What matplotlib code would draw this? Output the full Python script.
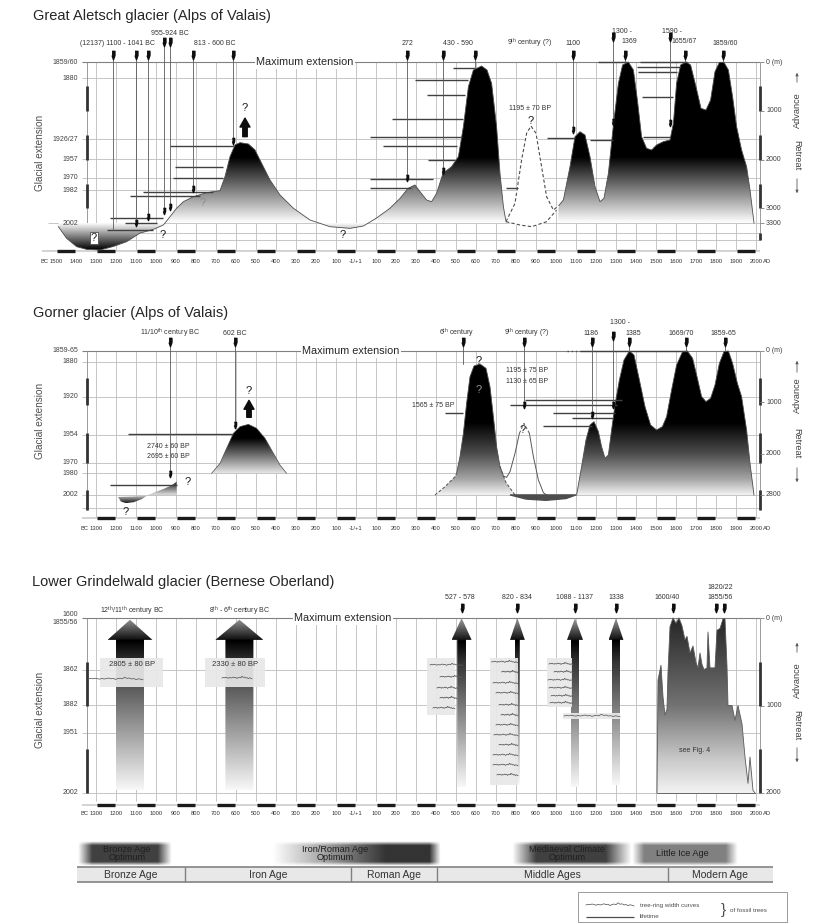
import numpy as np
import matplotlib
matplotlib.use('Agg')
import matplotlib.pyplot as plt
from matplotlib.patches import Polygon, Rectangle

plt.rcParams['font.family'] = ['Liberation Sans', 'DejaVu Sans']
plt.rcParams['mathtext.fontset'] = 'custom'
plt.rcParams['mathtext.rm'] = 'Liberation Sans'

# x = calendar year (BC negative), y = retreat behind the maximum extension (m)

# ---------------- Great Aletsch glacier ----------------
aletsch_years = [-1488, -1447, -1397, -1347, -1280, -1213, -1147, -1080, -1013, -963,
                 -930, -897, -863, -813, -747, -680, -655, -630, -605, -580,
                 -538, -505, -472, -430, -380, -313, -230, -130, -30, 37,
                 103, 170, 220, 260, 295, 320, 353, 378, 403, 435,
                 478, 512, 537, 562, 587, 628, 655, 678, 703, 720, 737, 750]
aletsch_m = [3375, 3613, 3784, 3839, 3852, 3780, 3682, 3506, 3430, 3340,
             3170, 2997, 2862, 2760, 2678, 2637, 2350, 1940, 1700, 1653,
             1680, 1803, 2073, 2418, 2725, 2997, 3238, 3375, 3409, 3361,
             3197, 2997, 2795, 2590, 2520, 2657, 2828, 2862, 2692, 2282,
             2145, 1940, 1325, 506, 164, 82, 164, 437, 1325, 2282, 2965, 3272]
aletsch2_years = [1012, 1037, 1070, 1095, 1120, 1145, 1170, 1195, 1220, 1240,
                  1262, 1287, 1312, 1333, 1362, 1387, 1407, 1428, 1453, 1478,
                  1503, 1537, 1570, 1587, 1603, 1623, 1650, 1673, 1700, 1725,
                  1750, 1773, 1795, 1817, 1840, 1862, 1883, 1903, 1928, 1953, 1970, 1990]
aletsch2_m = [2951, 2828, 2145, 1530, 1428, 1496, 1940, 2555, 2862, 2794,
              2282, 1291, 437, 61, 0, 164, 779, 1530, 1769, 1803,
              1700, 1632, 1598, 1257, 437, 61, 0, 61, 506, 950,
              984, 779, 198, 7, 7, 164, 711, 1325, 1803, 2145, 2623, 3300]
aletsch_9c_years = [750, 795, 828, 853, 875, 900, 928, 953, 987, 1012]
aletsch_9c_m = [3272, 2896, 2008, 1462, 1312, 1462, 2145, 2760, 3033, 2951]
aletsch_9c_low_years = [750, 820, 878, 953, 1003]
aletsch_9c_low_m = [3272, 3340, 3375, 3272, 3033]

aletsch_life_start = [-930, -905, -913, -1063, -1130, -1230, -1155, -1247, 295, 178, 70, 137, 70,
                      70, 487, 353, 362, 750, 953, 1170, 1212, 1420, 1403, 1412, 1428, 1437]
aletsch_life_end = [-615, -665, -663, -713, -780, -963, -997, -1013, 562, 537, 528, 503, 387,
                    287, 595, 545, 495, 812, 1095, 1287, 1353, 1653, 1620, 1603, 1587, 1570]
aletsch_life_m = [1715, 2145, 2384, 2657, 2746, 3203, 3292, 3443, 369, 1175, 1530, 1721, 2404,
                  2575, 130, 676, 2008, 2589, 1550, 1598, 0, 0, 100, 198, 711, 1544]

aletsch_evt_years = [-1213, -1100, -1040, -960, -930, -813, -613, 257, 435, 595, 1087, 1287, 1345, 1570, 1645, 1835]
aletsch_evt_top = [-150, -150, -150, -410, -410, -150, -150, -150, -150, -150, -150, -510, -150, -510, -150, -150]
aletsch_evt_end = [3443, 3292, 3203, 3100, 3000, 2660, 1715, 2400, 2250, 130, 1430, 1250, 0, 1290, 0, 0]
aletsch_evt_small_years = [-1100, -1040, -960, -930, -813, -613, 257, 435, 1087, 1287, 1570]
aletsch_evt_small_m = [3300, 3170, 3060, 2970, 2610, 1620, 2380, 2230, 1400, 1230, 1250]

aletsch_lab_text = ['(12137) 1100 - 1041 BC', '955-924 BC', '813 - 600 BC', '272', '430 - 590',
                    r'9$^{\rm th}$ century (?)', '1100', '1300 -', '1369', '1590 -', '1655/67', '1859/60']
aletsch_lab_x = [-1195, -930, -705, 257, 512, 867, 1087, 1328, 1367, 1578, 1640, 1845]
aletsch_lab_m = [-389, -574, -389, -389, -389, -389, -389, -635, -430, -635, -430, -389]

aletsch_levels = [0, 328, 1578, 1988, 2377, 2623, 3300]
aletsch_level_text = ['1859/60', '1880', '1926/27', '1957', '1970', '1982', '2002']
aletsch_right = [0, 1000, 2000, 3000, 3300]
aletsch_right_text = ['0 (m)', '1000', '2000', '3000', '3300']

# ---------------- Gorner glacier ----------------
gorner_bronze_years = [-1190, -1175, -1150, -1110, -1070, -1040, -1000, -960, -925, -897, -897]
gorner_bronze_m = [2840, 2930, 2960, 2940, 2880, 2800, 2740, 2680, 2620, 2545, 2800]
gorner_bc_years = [-722, -680, -647, -613, -580, -538, -497, -455, -413, -380, -347]
gorner_bc_m = [2380, 2186, 1894, 1602, 1472, 1427, 1504, 1699, 1991, 2218, 2380]
gorner_6c_years = [395, 445, 495, 503, 520, 537, 553, 570, 590, 620, 650, 670, 687, 703, 720, 750, 795]
gorner_6c_m = [2802, 2640, 2445, 2380, 2056, 1602, 1018, 500, 292, 253, 337, 694, 1278, 1862, 2251, 2560, 2800]
gorner_9c_years = [720, 737, 753, 770, 795, 817, 840, 867, 887, 912, 937, 953]
gorner_9c_m = [2251, 2432, 2458, 2348, 1991, 1602, 1407, 1602, 2056, 2510, 2757, 2802]
gorner_low_years = [770, 850, 950, 1050, 1100]
gorner_low_m = [2800, 2880, 2905, 2870, 2800]
gorner_years = [1103, 1128, 1150, 1170, 1190, 1212, 1228, 1245, 1262, 1278,
                1295, 1317, 1340, 1367, 1390, 1417, 1445, 1473, 1503, 1532,
                1553, 1578, 1603, 1633, 1657, 1683, 1707, 1728, 1750, 1773,
                1795, 1817, 1840, 1862, 1883, 1907, 1928, 1953, 1970, 1990]
gorner_m = [2802, 2251, 1732, 1440, 1375, 1569, 1862, 2088, 2023, 1537,
            1051, 564, 175, 0, 78, 564, 1083, 1440, 1537, 1472,
            1278, 759, 272, 13, 0, 142, 531, 888, 985, 920,
            661, 240, 13, 0, 240, 629, 888, 1537, 2186, 2802]

gorner_life_start = [-1230, -1138, 445, 1120, 845, 770, 987, 1078, 937]
gorner_life_end = [-897, -613, 537, 1653, 1328, 1303, 1295, 1287, 1178]
gorner_life_m = [2607, 1615, 1213, 0, 953, 1051, 1200, 1310, 1459]

gorner_evt_years = [-930, -605, 535, 840, 1178, 1287, 1365, 1650, 1845]
gorner_evt_top = [-175, -175, -175, -175, -175, -300, -175, -175, -175]
gorner_evt_end = [2412, 1478, 260, 1070, 1245, 1070, 0, 0, 0]
gorner_evt_small_years = [-930, -605, 840, 1178, 1287]
gorner_evt_small_m = [2400, 1440, 1060, 1240, 1060]

gorner_lab_text = [r'11/10$^{\rm th}$ century BC', '602 BC', r'6$^{\rm th}$ century', r'9$^{\rm th}$ century (?)',
                   '1186', '1300 -', '1385', '1669/70', '1859-65']
gorner_lab_x = [-930, -605, 503, 853, 1175, 1320, 1387, 1628, 1837]
gorner_lab_m = [-350, -350, -350, -350, -350, -545, -350, -350, -350]

gorner_levels = [0, 208, 889, 1634, 2173, 2380, 2800]
gorner_level_text = ['1859-65', '1880', '1920', '1954', '1970', '1980', '2002']
gorner_right = [0, 1000, 2000, 2800]
gorner_right_text = ['0 (m)', '1000', '2000', '2800']

# ---------------- Lower Grindelwald glacier ----------------
grind_years = [1505, 1510, 1525, 1535, 1545, 1555, 1560, 1570, 1585, 1600,
               1615, 1630, 1645, 1655, 1670, 1685, 1700, 1710, 1720, 1730,
               1740, 1755, 1760, 1770, 1795, 1805, 1820, 1835, 1845, 1855,
               1860, 1880, 1895, 1910, 1930, 1945, 1960, 1970, 1985, 1995]
grind_m = [2000, 710, 540, 900, 1110, 1040, 620, 100, 0, 60,
           0, 90, 250, 210, 400, 320, 510, 570, 400, 530,
           590, 570, 160, 570, 570, 140, 120, 10, 10, 550,
           1000, 1000, 1170, 1000, 1210, 1590, 1890, 1590, 1970, 2000]

# advance arrows (dated advances from fossil wood)
arrow_center = [-1130, -583, 528, 807, 1095, 1300]
arrow_head_half = [112, 120, 50, 37, 40, 37]
arrow_shaft_half = [70, 70, 22, 12, 20, 20]
arrow_tip = [20, 20, 0, 0, 0, 0]
arrow_bottom = [1965, 1965, 1930, 1910, 1930, 1910]

# grey boxes holding tree-ring curves: x0, x1, m0, m1
ring_box_x0 = [-1280, -755, 355, 670, 955, 1035]
ring_box_x1 = [-965, -455, 495, 810, 1080, 1320]
ring_box_m0 = [457, 457, 457, 457, 457, 1086]
ring_box_m1 = [789, 789, 1110, 1910, 1017, 1150]
ring_start = [-1340, -670, 370, 420, 405, 420, 385,
              678, 728, 685, 700, 715, 725, 700, 690, 715, 685, 685, 705,
              965, 990, 960, 965, 975, 970, 1040]
ring_end = [-1065, -520, 535, 530, 510, 505, 495,
            810, 810, 810, 810, 810, 810, 810, 810, 810, 810, 810, 810,
            1085, 1085, 1085, 1085, 1085, 1085, 1320]
ring_m = [697, 686, 537, 674, 800, 914, 1029,
          503, 617, 743, 857, 994, 1109, 1223, 1337, 1451, 1566, 1680, 1794,
          526, 617, 709, 800, 891, 971, 1120]
ring_wiggle = [0.0, 0.3, 0.1, 0.4, 0.2, -0.1, 0.3, 0.0, 0.2, 0.5, 0.1, 0.3, -0.2,
               0.2, 0.4, 0.1, 0.9, 0.3, 0.5, 0.0, 0.2, -0.3, 0.1, -0.1, -0.4]

grind_evt_years = [530, 805, 1095, 1300, 1585, 1800, 1840]
grind_lab_text = [r'12$^{\rm th}$/11$^{\rm th}$ century BC', r'8$^{\rm th}$ - 6$^{\rm th}$ century BC',
                  '527 - 578', '820 - 834', '1088 - 1137', '1338', '1600/40', '1820/22', '1855/56']
grind_lab_x = [-1120, -580, 520, 805, 1095, 1300, 1555, 1820, 1820]
grind_lab_m = [-80, -80, -229, -229, -229, -229, -229, -343, -229]

grind_levels = [0, 594, 994, 1314, 2000]
grind_level_pos = [-45, 55, 594, 994, 1314, 2000]
grind_level_text = ['1600', '1855/56', '1862', '1882', '1951', '2002']
grind_right = [0, 1000, 2000]
grind_right_text = ['0 (m)', '1000', '2000']

# ---------------- cultural / climate periods ----------------
period_names = ['Bronze Age', 'Iron Age', 'Roman Age', 'Middle Ages', 'Modern Age']
period_bounds = [-1395, -855, -25, 405, 1560, 2085]
optimum_names = ['Bronze Age\nOptimum', 'Iron/Roman Age\nOptimum', 'Mediaeval Climate\nOptimum', 'Little Ice Age']
optimum_text_x = [-1145, -105, 1055, 1630]
optimum_ramp = [(-1390, -1320, -990, -920), (-420, 150, 370, 425), (780, 900, 1250, 1380), (1380, 1440, 1850, 1910)]
optimum_dark = [0.75, 0.8, 0.75, 0.5]

GRID = '0.74'
EVT = [(-0.35, 1.0), (0.35, 1.0), (0.35, 0.0), (0.0, -1.0), (-0.35, 0.0)]

fig = plt.figure(figsize=(8.28, 9.23), dpi=100)


def make_panel(top_px, bot_px, y0_px, px_per_m):
    ax = fig.add_axes([0, 1 - bot_px / 923, 1, (bot_px - top_px) / 923])
    ax.axis('off')
    lims = ((bot_px - y0_px) / px_per_m, (top_px - y0_px) / px_per_m)
    return ax, lims


def grad_poly(ax, xs, ys, stops_m, stops_v, z=2):
    poly = Polygon(np.column_stack([xs, ys]), closed=True, fc='none', ec='none')
    ax.add_patch(poly)
    r0, r1 = min(ys), max(ys)
    rr = np.linspace(r0, r1, 400)
    col = np.interp(rr, stops_m, stops_v)
    img = np.tile(col[:, None], (1, 2))
    im = ax.imshow(img, extent=[min(xs), max(xs), r1, r0], origin='upper', cmap='gray',
                   vmin=0, vmax=1, aspect='auto', interpolation='bilinear', zorder=z)
    im.set_clip_path(poly)


def frame(ax, first, levels, lab_pos, lab_txt, rticks, rtxt, extra, sbars, vbot, r_bar, r_tick,
          max_x, ylab_m, adv_m, ret_m, arr_up, arr_dn):
    cents = np.arange(-1300, 2001, 100)
    ax.vlines(cents, 0, vbot, color=GRID, lw=0.6, zorder=1)
    ax.hlines(list(levels[1:]) + list(extra), -1370, 2020, color=GRID, lw=0.6, zorder=1)
    ax.hlines(0, -1370, 2020, color='0.5', lw=0.8, zorder=1)
    ax.text(max_x, 0, 'Maximum extension', fontsize=7.8, ha='center', va='center', color='0.15',
            bbox=dict(fc='white', ec='none', pad=1.2), zorder=6)
    ax.vlines([-1345, 2020], 0, sbars[-1][1], color='0.55', lw=0.6, zorder=1)
    for b0, b1 in sbars:
        ax.vlines([-1345, 2020], b0, b1, color='0.2', lw=2.0, zorder=2)
    # time axis with alternating century bars
    ax.hlines(r_bar, first - 70, 2020, color='0.8', lw=1.2, zorder=1)
    bc = np.arange(first, 0, 200)
    ad = np.arange(100, 2000, 200)
    for s in list(bc) + list(ad):
        ax.hlines(r_bar, s + 4, s + 96, color='0.1', lw=2.4, zorder=2)
    for yr in range(first, 2001, 100):
        txt = '-1/+1' if yr == 0 else str(abs(yr))
        ax.text(yr, r_tick, txt, fontsize=4.2, ha='center', va='center', color='0.2')
    ax.text(first - 38, r_tick, 'BC', fontsize=4.2, ha='right', va='center', color='0.2')
    ax.text(2035, r_tick, 'AD', fontsize=4.2, ha='left', va='center', color='0.2')
    for p, t in zip(lab_pos, lab_txt):
        ax.text(-1390, p, t, fontsize=5, ha='right', va='center', color='0.25')
    for p, t in zip(rticks, rtxt):
        ax.hlines(p, 2020, 2038, color='0.5', lw=0.6)
        ax.text(2050, p, t, fontsize=5, ha='left', va='center', color='0.25')
    ax.text(-1580, ylab_m, 'Glacial extension', fontsize=7.2, rotation=90, ha='center', va='center', color='0.3')
    ax.text(2205, adv_m, 'Advance', fontsize=6.6, rotation=90, ha='center', va='center', color='0.25')
    ax.text(2205, ret_m, 'Retreat', fontsize=6.6, rotation=-90, ha='center', va='center', color='0.25')
    ap = dict(arrowstyle='-|>', lw=0.6, color='0.35', mutation_scale=4)
    ax.annotate('', xy=(2205, arr_up[0]), xytext=(2205, arr_up[1]), arrowprops=ap)
    ax.annotate('', xy=(2205, arr_dn[1]), xytext=(2205, arr_dn[0]), arrowprops=ap)


def events(ax, yrs, tops, ends, sy, sm, lab_text, lab_x, lab_m):
    for x, t, e in zip(yrs, tops, ends):
        ax.plot([x, x], [t, e], color='0.35', lw=0.6, zorder=4)
    ax.plot(yrs, tops, ls='none', marker=EVT, ms=6, color='0.05', zorder=6)
    if sy:
        ax.plot(sy, sm, ls='none', marker=EVT, ms=4.5, color='0.05', zorder=6)
    for t, x, m in zip(lab_text, lab_x, lab_m):
        ax.text(x, m, t, fontsize=5, ha='center', va='center', color='0.2')


def lifetimes(ax, s, e, m):
    ax.hlines(m, s, e, color='0.25', lw=1.0, zorder=4)


def qmark(ax, x, m, col='0.1', box=False, size=8):
    kw = dict(fc='white', ec='0.3', lw=0.6, pad=0.6) if box else None
    ax.text(x, m, '?', fontsize=size, ha='center', va='center', color=col, zorder=7, bbox=kw)


def up_arrow(ax, x, m_tip, m_tail):
    ax.annotate('', xy=(x, m_tip), xytext=(x, m_tail), zorder=6,
                arrowprops=dict(arrowstyle='simple,head_width=0.9,head_length=0.8,tail_width=0.4',
                                color='0.05', mutation_scale=8, shrinkA=0, shrinkB=0))


# =============== panel 1: Great Aletsch ===============
ax1, lim1 = make_panel(0, 290, 62, 0.0488)
fig.text(33 / 828, 1 - 16 / 923, 'Great Aletsch glacier (Alps of Valais)', fontsize=10.5, va='center', color='0.15')
frame(ax1, -1500, aletsch_levels, aletsch_levels, aletsch_level_text, aletsch_right, aletsch_right_text,
      [3500, 3650], [(500, 1000), (1500, 2000), (2500, 3000), (3500, 3650)], 3860, 3873, 4078,
      -255, 1865, 984, 1906, (164, 471), (2336, 2746))
ax1.hlines(3300, -1540, -1370, color=GRID, lw=0.6, zorder=1)

grad_poly(ax1, aletsch_years + [760, -1488], aletsch_m + [3300, 3300],
          [0, 1950, 3300, 3850], [0, 0, 1, 0])
grad_poly(ax1, aletsch2_years + [2000, 1012], aletsch2_m + [3300, 3300],
          [0, 1950, 3300], [0, 0, 1])
ax1.plot(aletsch_years, aletsch_m, color='0.3', lw=0.6, zorder=3)
ax1.plot(aletsch2_years, aletsch2_m, color='0.3', lw=0.6, zorder=3)
ax1.fill(aletsch_9c_years + aletsch_9c_low_years[::-1], aletsch_9c_m + aletsch_9c_low_m[::-1],
         color='white', zorder=3)
ax1.plot(aletsch_9c_years, aletsch_9c_m, color='0.3', lw=0.8, ls=(0, (3, 2)), zorder=4)
ax1.plot(aletsch_9c_low_years, aletsch_9c_low_m, color='0.3', lw=0.8, ls=(0, (3, 2)), zorder=4)
lifetimes(ax1, aletsch_life_start, aletsch_life_end, aletsch_life_m)
events(ax1, aletsch_evt_years, aletsch_evt_top, aletsch_evt_end, aletsch_evt_small_years,
       aletsch_evt_small_m, aletsch_lab_text, aletsch_lab_x, aletsch_lab_m)
up_arrow(ax1, -555, 1150, 1530)
qmark(ax1, -555, 950)
qmark(ax1, -765, 2890, col='0.55')
qmark(ax1, -965, 3545)
qmark(ax1, -1310, 3607, box=True)
qmark(ax1, -65, 3545)
qmark(ax1, 285, 2690, col='0.55')
qmark(ax1, 875, 1200)
ax1.text(870, 950, '1195 \u00b1 70 BP', fontsize=5, ha='center', va='center', color='0.2')
ax1.set_xlim(-1780, 2360)
ax1.set_ylim(*lim1)

# =============== panel 2: Gorner ===============
ax2, lim2 = make_panel(290, 560, 351, 0.0514)
fig.text(33 / 828, 1 - 313 / 923, 'Gorner glacier (Alps of Valais)', fontsize=10.5, va='center', color='0.15')
frame(ax2, -1300, gorner_levels, gorner_levels, gorner_level_text, gorner_right, gorner_right_text,
      [3050], [(520, 1050), (1600, 2180), (2700, 3100)], 3230, 3249, 3444,
      -25, 1362, 856, 1790, (136, 467), (2218, 2607))

grad_poly(ax2, gorner_bronze_years, gorner_bronze_m, [2540, 2800, 2970], [0.05, 0.85, 0.05])
grad_poly(ax2, gorner_bc_years, gorner_bc_m, [1700, 2420], [0, 0.95])
ax2.plot(gorner_bc_years, gorner_bc_m, color='0.3', lw=0.5, zorder=3)
grad_poly(ax2, gorner_6c_years, gorner_6c_m, [0, 1400, 2000, 2500, 2850], [0, 0, 0.3, 0.65, 1])
ax2.plot(gorner_6c_years[3:15], gorner_6c_m[3:15], color='0.3', lw=0.6, zorder=3)
ax2.plot(gorner_6c_years[:4], gorner_6c_m[:4], color='0.3', lw=0.7, ls=(0, (3, 2)), zorder=3)
ax2.plot(gorner_6c_years[14:], gorner_6c_m[14:], color='0.3', lw=0.7, ls=(0, (3, 2)), zorder=3)
ax2.plot(gorner_9c_years[:6], gorner_9c_m[:6], color='0.35', lw=0.7, zorder=3)
ax2.plot(gorner_9c_years[5:8], gorner_9c_m[5:8], color='0.35', lw=0.7, ls=(0, (3, 2)), zorder=3)
ax2.plot(gorner_9c_years[7:], gorner_9c_m[7:], color='0.35', lw=0.7, zorder=3)
ax2.fill(gorner_low_years, gorner_low_m, color='0.3', zorder=3)
grad_poly(ax2, gorner_years + [1103], gorner_m + [2802], [0, 1400, 2000, 2500, 2850], [0, 0, 0.3, 0.65, 1])
ax2.plot(gorner_years, gorner_m, color='0.3', lw=0.6, zorder=3)
ax2.plot([1053, 1120], [0, 0], color='0.3', lw=1.0, ls=(0, (1, 2)), zorder=4)
lifetimes(ax2, gorner_life_start, gorner_life_end, gorner_life_m)
events(ax2, gorner_evt_years, gorner_evt_top, gorner_evt_end, gorner_evt_small_years,
       gorner_evt_small_m, gorner_lab_text, gorner_lab_x, gorner_lab_m)
up_arrow(ax2, -535, 960, 1290)
qmark(ax2, -535, 780)
qmark(ax2, -840, 2550)
qmark(ax2, -1150, 3130)
qmark(ax2, 615, 190)
qmark(ax2, 615, 760, col='0.6')
qmark(ax2, 835, 1530)
ax2.text(-940, 1862, '2740 \u00b1 60 BP', fontsize=5, ha='center', va='center', color='0.2')
ax2.text(-940, 2056, '2695 \u00b1 60 BP', fontsize=5, ha='center', va='center', color='0.2')
ax2.text(853, 389, '1195 \u00b1 75 BP', fontsize=5, ha='center', va='center', color='0.2')
ax2.text(853, 597, '1130 \u00b1 65 BP', fontsize=5, ha='center', va='center', color='0.2')
ax2.text(387, 1051, '1565 \u00b1 75 BP', fontsize=5, ha='center', va='center', color='0.2')
ax2.set_xlim(-1780, 2360)
ax2.set_ylim(*lim2)

# =============== panel 3: Lower Grindelwald ===============
ax3, lim3 = make_panel(570, 830, 618, 0.0875)
fig.text(32 / 828, 1 - 582 / 923, 'Lower Grindelwald glacier (Bernese Oberland)', fontsize=10.5, va='center',
         color='0.15')
frame(ax3, -1300, grind_levels, grind_level_pos, grind_level_text, grind_right, grind_right_text,
      [], [(500, 1000), (1500, 2000)], 2090, 2137, 2229,
      -65, 1051, 709, 1223, (251, 423), (1451, 1680))

grad_poly(ax3, grind_years, grind_m, [0, 1000, 1600, 2000], [0.15, 0.45, 0.78, 0.95])
ax3.plot(grind_years, grind_m, color='0.35', lw=0.6, zorder=3)
ax3.plot([grind_years[0], grind_years[-1]], [2000, 2000], color='0.35', lw=0.6, zorder=3)
ax3.text(1695, 1520, 'see Fig. 4', fontsize=5, ha='center', va='center', color='0.2', zorder=5)

for c, hw, sw, tp, bt in zip(arrow_center, arrow_head_half, arrow_shaft_half, arrow_tip, arrow_bottom):
    xs = [c, c + hw, c + sw, c + sw, c - sw, c - sw, c - hw]
    ys = [tp, 250, 250, bt, bt, 250, 250]
    grad_poly(ax3, xs, ys, [0, 245, 260, 500, bt], [0.62, 0.08, 0.0, 0.2, 0.97], z=3)

for x0, x1, m0, m1 in zip(ring_box_x0, ring_box_x1, ring_box_m0, ring_box_m1):
    ax3.add_patch(Rectangle((x0, m0), x1 - x0, m1 - m0, fc='0.91', ec='none', alpha=0.92, zorder=4))
for s, e, m in zip(ring_start, ring_end, ring_m):
    xs = np.linspace(s, e, len(ring_wiggle))
    ax3.plot(xs, m - 22 * np.array(ring_wiggle), color='0.35', lw=0.55, zorder=5)
ax3.text(-1122, 537, '2805 \u00b1 80 BP', fontsize=5.5, ha='center', va='center', color='0.2', zorder=6)
ax3.text(-605, 537, '2330 \u00b1 80 BP', fontsize=5.5, ha='center', va='center', color='0.2', zorder=6)

ax3.plot(grind_evt_years, [-114] * len(grind_evt_years), ls='none', marker=EVT, ms=6, color='0.05', zorder=6)
for t, x, m in zip(grind_lab_text, grind_lab_x, grind_lab_m):
    ax3.text(x, m, t, fontsize=5, ha='center', va='center', color='0.2')
ax3.set_xlim(-1780, 2360)
ax3.set_ylim(*lim3)

# =============== periods + legend ===============
ax4 = fig.add_axes([0, 0, 1, 88 / 923])
ax4.axis('off')
for (a, b, c, d), dk in zip(optimum_ramp, optimum_dark):
    xx = np.linspace(a, d, 200)
    yy = np.linspace(841, 866, 40)
    hx = np.interp(xx, [a, b, c, d], [0, 1, 1, 0])
    vy = np.interp(yy, [841, 845, 862, 866], [0, 1, 1, 0])
    rgba = np.zeros((len(yy), len(xx), 4))
    rgba[..., 3] = dk * vy[:, None] * hx[None, :]
    ax4.imshow(rgba, extent=[a, d, 866, 841], origin='upper', aspect='auto', interpolation='bilinear', zorder=1)
for t, x in zip(optimum_names, optimum_text_x):
    ax4.text(x, 853.5, t, fontsize=6.6, ha='center', va='center', color='0.12', linespacing=0.95, zorder=3)

ax4.add_patch(Rectangle((period_bounds[0], 867), period_bounds[-1] - period_bounds[0], 15,
                        fc='0.91', ec='none', zorder=1))
ax4.hlines([867, 882], period_bounds[0], period_bounds[-1], color='0.55', lw=1.3, zorder=2)
ax4.vlines(period_bounds[1:-1], 867, 882, color='0.5', lw=1.0, zorder=2)
for i, nm in enumerate(period_names):
    xc = (period_bounds[i] + period_bounds[i + 1]) / 2
    ax4.text(xc, 874.5, nm, fontsize=7.5, ha='center', va='center', color='0.2', zorder=3)

ax4.add_patch(Rectangle((1110, 892), 1045, 30, fc='white', ec='0.55', lw=0.6, zorder=1))
lx = np.linspace(1150, 1390, len(ring_wiggle))
ax4.plot(lx, 905 - 2.5 * np.array(ring_wiggle), color='0.3', lw=0.5, zorder=2)
ax4.hlines(917, 1150, 1390, color='0.3', lw=0.9, zorder=2)
ax4.text(1420, 905, 'tree-ring width curves', fontsize=4.5, ha='left', va='center', color='0.3')
ax4.text(1420, 917, 'lifetime', fontsize=4.5, ha='left', va='center', color='0.3')
ax4.text(1838, 910, '}', fontsize=11, ha='center', va='center', color='0.3')
ax4.text(1870, 911, 'of fossil trees', fontsize=4.5, ha='left', va='center', color='0.3')
ax4.set_xlim(-1780, 2360)
ax4.set_ylim(923, 835)

fig.savefig('out.png', dpi=100)
